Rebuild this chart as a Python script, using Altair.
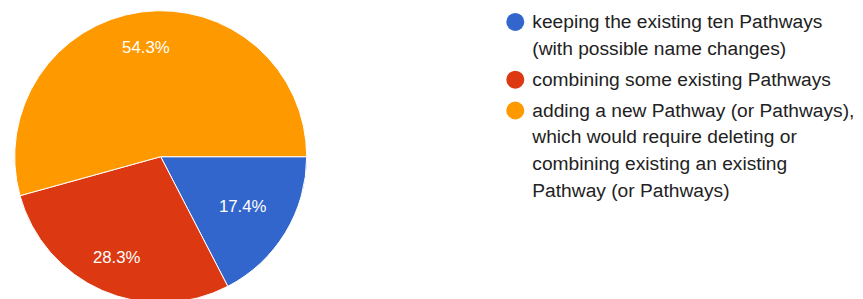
import math
import altair as alt
import pandas as pd

categories = [
    "keeping the existing ten Pathways\n(with possible name changes)",
    "combining some existing Pathways",
    "adding a new Pathway (or Pathways),\nwhich would require deleting or\ncombining existing an existing\nPathway (or Pathways)",
]
shares = [17.4, 28.3, 54.3]
labels = ["17.4%", "28.3%", "54.3%"]
colors = ["#3366CC", "#DC3912", "#FF9900"]

df = pd.DataFrame({
    "category": categories,
    "share": shares,
    "label": labels,
    "idx": list(range(len(categories))),
})

FONT = "Arial, Liberation Sans, sans-serif"
CX, CY, R = 152.7, 148.7, 146
theta_scale = alt.Scale(domain=[0, sum(shares)],
                        range=[math.pi / 2, math.pi / 2 + 2 * math.pi])

pie = alt.Chart(df).mark_arc(stroke="white", strokeWidth=1, radius=R).encode(
    theta=alt.Theta("share:Q", stack=True, scale=theta_scale),
    order=alt.Order("idx:Q"),
    x=alt.value(CX),
    y=alt.value(CY),
    color=alt.Color(
        "category:N",
        scale=alt.Scale(domain=categories, range=colors),
        sort=None,
        legend=alt.Legend(
            title=None,
            orient="none",
            legendX=497.7,
            legendY=4.3,
            padding=0,
            symbolType="circle",
            symbolSize=324,
            symbolStrokeWidth=0,
            symbolOpacity=1,
            labelFont=FONT,
            labelFontSize=19.2,
            labelColor="#222222",
            labelOffset=7.4,
            labelLimit=0,
            labelBaseline="middle",
            rowPadding=10.8,
            labelExpr="split(datum.label, '\\n')",
        ),
    ),
)

text_base = (
    alt.Chart(df)
    .transform_window(cum="sum(share)", sort=[alt.SortField("idx")])
    .transform_calculate(mid="datum.cum - datum.share / 2")
)


def label_layer(flt, r):
    return text_base.transform_filter(flt).mark_text(
        radius=r, font=FONT, fontSize=16.8, color="white",
        align="center", baseline="middle",
    ).encode(
        theta=alt.Theta("mid:Q", stack=None, scale=theta_scale),
        x=alt.value(CX),
        y=alt.value(CY),
        text="label:N",
    )


text_small = label_layer(alt.datum.share < 20, 96)
text_large = label_layer(alt.datum.share >= 20, 110)

chart = (
    alt.layer(pie, text_small, text_large)
    .properties(width=847, height=291, padding=0,
                autosize=alt.AutoSizeParams(type="none"))
    .configure(style={"guide-label": {"lineHeight": 26.8}})
    .configure_view(stroke=None)
)

chart.save("out.html", embed_options={"renderer": "svg", "actions": False})
